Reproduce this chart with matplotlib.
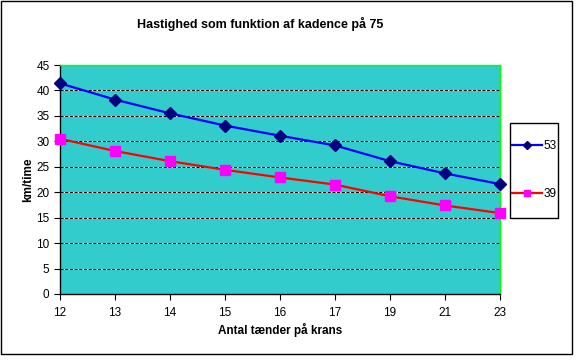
import matplotlib
matplotlib.use("Agg")
import matplotlib.pyplot as plt
from matplotlib.patches import Rectangle

categories = ["12", "13", "14", "15", "16", "17", "19", "21", "23"]
series_53 = [41.4, 38.2, 35.5, 33.1, 31.1, 29.2, 26.1, 23.7, 21.6]
series_39 = [30.5, 28.1, 26.1, 24.4, 22.9, 21.5, 19.2, 17.4, 15.9]
yticks = [0, 5, 10, 15, 20, 25, 30, 35, 40, 45]

plt.rcParams['font.family'] = ['Liberation Sans', 'DejaVu Sans']

W, H = 578, 360
fig = plt.figure(figsize=(W / 100, H / 100), dpi=100)
fig.patch.set_facecolor('white')

L, R, T, B = 60, 500, 65, 294
ax = fig.add_axes([L / W, 1 - B / H, (R - L) / W, (B - T) / H])
ax.set_facecolor('#33CCCC')

x = list(range(len(categories)))
ax.set_xlim(0, len(categories) - 1)
ax.set_ylim(0, 45)

for yv in yticks[1:-1]:
    ax.axhline(yv, color='white', lw=0.75, zorder=1)
    ax.axhline(yv, color='black', lw=0.75, linestyle=(0, (3, 1.5)), zorder=1.1)

ax.plot(x, series_53, color='#0000FF', lw=1.6, marker='D', markersize=6,
        markerfacecolor='#000080', markeredgecolor='#000080', label='53',
        zorder=3, clip_on=False)
ax.plot(x, series_39, color='#FF0000', lw=1.6, marker='s', markersize=6.5,
        markerfacecolor='#FF00FF', markeredgecolor='#FF00FF', label='39',
        zorder=3, clip_on=False)

ax.set_xticks(x)
ax.set_xticklabels(categories)
ax.set_yticks(yticks)
ax.tick_params(axis='both', direction='out', length=4, width=0.8,
               labelsize=8.5, colors='black')
ax.tick_params(axis='x', pad=5)

for s in ['left', 'bottom']:
    ax.spines[s].set_color('black')
    ax.spines[s].set_linewidth(1)
for s in ['top', 'right']:
    ax.spines[s].set_color('#00FF00')
    ax.spines[s].set_linewidth(1)

fig.text(260 / W, 1 - 24 / H, "Hastighed som funktion af kadence på 75",
         ha='center', va='center', fontsize=9, fontweight='bold')
fig.text((L + R) / 2 / W, 1 - 330 / H, "Antal tænder på krans",
         ha='center', va='center', fontsize=8.5, fontweight='bold')
fig.text(28 / W, 1 - 180 / H, "km/time", rotation=90,
         ha='center', va='center', fontsize=8.5, fontweight='bold')

leg = fig.legend(loc='center left', bbox_to_anchor=(512 / W, 1 - 170 / H),
                 fontsize=8.5, frameon=False, handlelength=2.5,
                 labelspacing=3.0, borderpad=0, handletextpad=0.15,
                 borderaxespad=0, markerscale=0.65)

fig.patches.append(Rectangle((509.5 / W, 1 - 218.5 / H), 48 / W, 95 / H,
                             transform=fig.transFigure, fill=False,
                             edgecolor='black', lw=1))
fig.patches.append(Rectangle((0.5 / W, 1 - 353.5 / H), 571.5 / W, 353 / H,
                             transform=fig.transFigure, fill=False,
                             edgecolor='black', lw=1))

fig.savefig('out.png', dpi=100)
